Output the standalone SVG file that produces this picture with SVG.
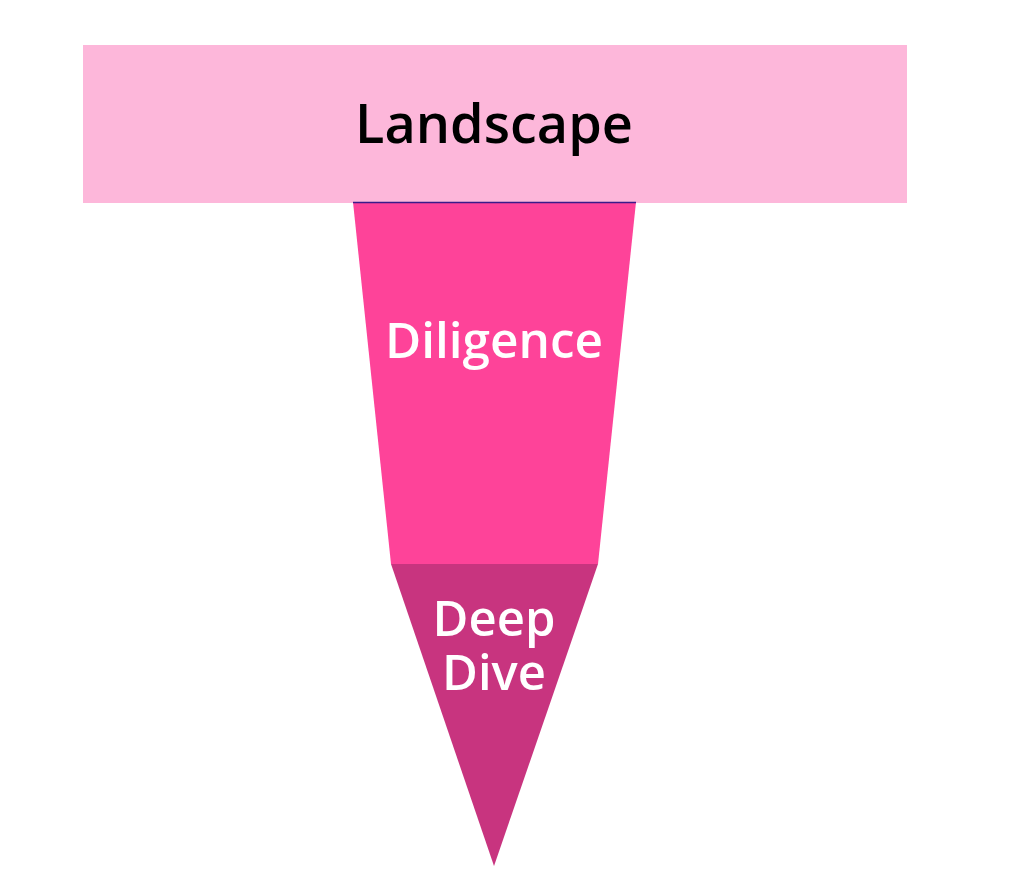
<svg xmlns="http://www.w3.org/2000/svg" width="1016" height="888" viewBox="0 0 1016 888">
<style>
.lbl{font-family:"Open Sans",Lato,"Liberation Sans",sans-serif;font-weight:600;text-anchor:middle}
</style>
<rect width="1016" height="888" fill="#ffffff"/>
<g id="landscape">
<rect x="83" y="45" width="824" height="158" fill="#fdb7da"/>
<text class="lbl" x="494" y="143" font-size="54" fill="#000000">Landscape</text>
</g>
<g id="diligence">
<polygon points="353,202 636,202 598,564 391,564" fill="#fe4399"/>
<line x1="353" y1="202.5" x2="636" y2="202.5" stroke="#3a1a8a" stroke-width="1.5"/>
<text class="lbl" x="494" y="358" font-size="49.5" fill="#ffffff">Diligence</text>
</g>
<g id="deepdive">
<polygon points="391,564 598,564 494,866" fill="#c8347f"/>
<text class="lbl" x="494" y="636" font-size="49" fill="#ffffff">Deep</text>
<text class="lbl" x="494" y="690" font-size="49" fill="#ffffff">Dive</text>
</g>
<g id="connectors"></g>
</svg>
